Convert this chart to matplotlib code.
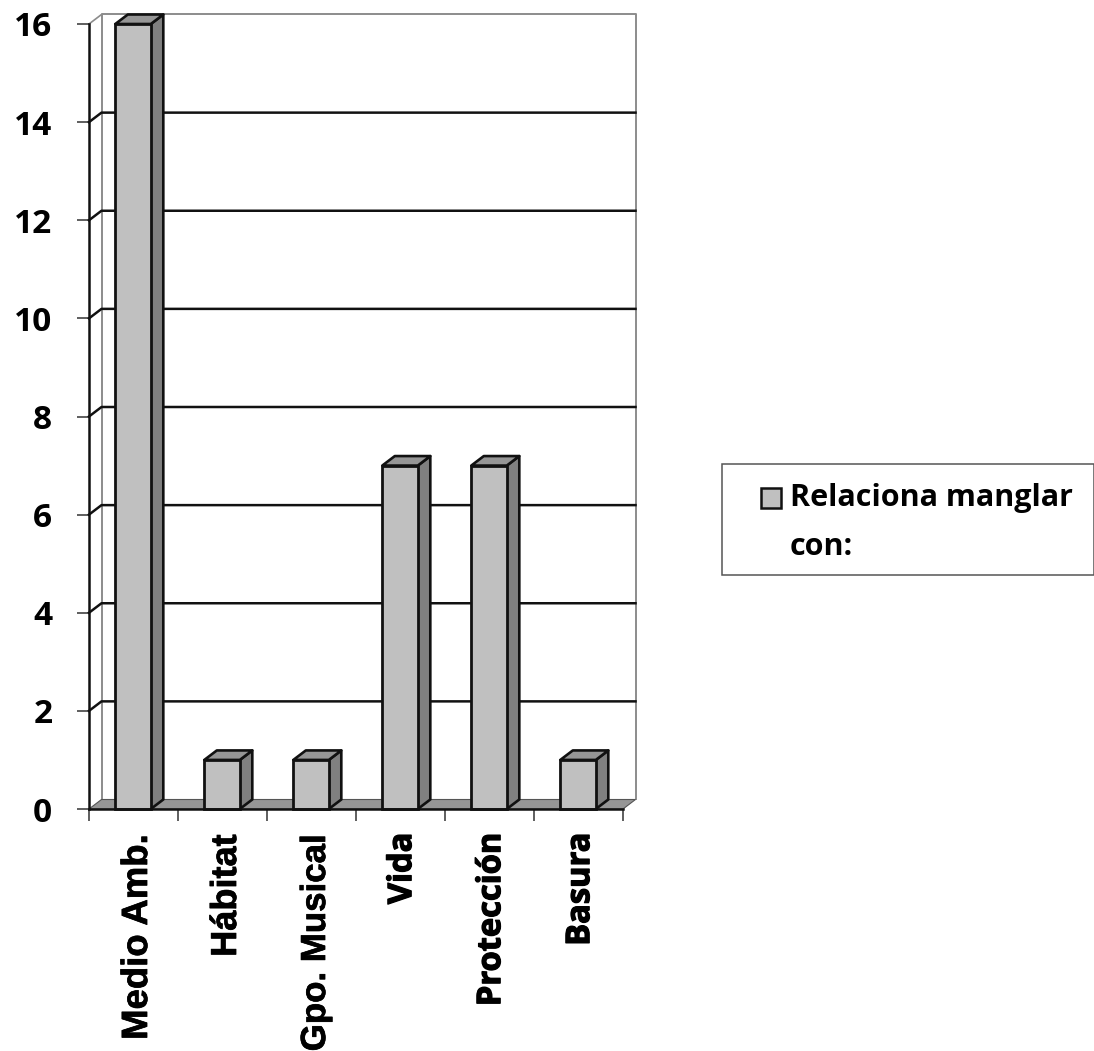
import matplotlib
matplotlib.use("Agg")
import matplotlib.pyplot as plt
import matplotlib.patheffects as pe
from matplotlib.patches import Polygon, Rectangle

plt.rcParams['font.family'] = ['Open Sans', 'DejaVu Sans']
plt.rcParams['font.weight'] = 'bold'

categories = ["Medio Amb.", "Hábitat", "Gpo. Musical", "Vida", "Protección", "Basura"]
values = [16, 1, 1, 7, 7, 1]
y_ticks = [0, 2, 4, 6, 8, 10, 12, 14, 16]
legend_text = "Relaciona manglar\ncon:"

W, H = 1094, 1051
fig = plt.figure(figsize=(W / 100, H / 100), dpi=100, facecolor="white")
ax = fig.add_axes([89 / W, 1 - 809 / H, 534 / W, 785 / H])
ax.set_xlim(0, len(categories))
ax.set_ylim(0, 16)
for s in ax.spines.values():
    s.set_visible(False)
ax.patch.set_visible(False)

# depth of the fake 3d box, in data units
dx = 12.5 / 89
dy = 9.5 / 49.06
bar_w = 35.5 / 89
n = len(categories)

front = "#c0c0c0"
side = "#808080"
top = "#969696"
floor = "#969696"
edge = "#111111"
wall = "#8c8c8c"
heavier = [pe.withStroke(linewidth=0.5, foreground="black")]
heavier2 = [pe.withStroke(linewidth=0.9, foreground="black")]

# back wall and side wall
ax.plot([dx, dx, n + dx, n + dx], [dy, 16 + dy, 16 + dy, dy], color=wall, lw=1.4, clip_on=False, zorder=1)
ax.plot([0, dx], [16, 16 + dy], color=wall, lw=1.2, clip_on=False, zorder=1)

# grid lines go on back wall then down the side wall
for v in y_ticks[1:-1]:
    ax.plot([0, dx, n + dx], [v, v + dy, v + dy], color=edge, lw=1.8, clip_on=False, zorder=2)

# floor
ax.add_patch(Polygon([(0, 0), (dx, dy), (n + dx, dy), (n, 0)], closed=True, fc=floor, ec="#555555", lw=0.8,
                     clip_on=False, zorder=2))

# bars
for i, v in enumerate(values):
    x0 = i + 0.5 - bar_w / 2 - 0.005
    x1 = x0 + bar_w
    ax.add_patch(Polygon([(x1, 0), (x1 + dx, dy), (x1 + dx, v + dy), (x1, v)], closed=True, fc=side, ec=edge,
                         lw=1.9, clip_on=False, zorder=3, joinstyle="round"))
    ax.add_patch(Polygon([(x0, v), (x0 + dx, v + dy), (x1 + dx, v + dy), (x1, v)], closed=True, fc=top, ec=edge,
                         lw=1.9, clip_on=False, zorder=3, joinstyle="round"))
    ax.add_patch(Rectangle((x0, 0), bar_w, v, fc=front, ec=edge, lw=2.0, clip_on=False, zorder=4))

# front axis lines
ax.plot([0, 0], [0, 16], color=edge, lw=1.8, clip_on=False, zorder=5)
ax.plot([0, n], [0, 0], color=edge, lw=1.8, clip_on=False, zorder=5)

ax.set_yticks(y_ticks)
ax.set_yticklabels([str(v) for v in y_ticks], fontsize=24, fontweight="bold", color="black")
ax.tick_params(axis="y", length=8.5, width=1.1, color="#333333", pad=18)

ax.set_xticks(range(n + 1))
ax.set_xticklabels([])
ax.tick_params(axis="x", length=8.5, width=1.1, color="#333333")

# first three labels look arial-like, last three calibri-like, so each gets its own size
label_sizes = [26.3, 26, 25.1, 23.5, 23.5, 23.5]
for i, name in enumerate(categories):
    if i < 3:
        ax.text(i + 0.652, -0.52, name, rotation=90, rotation_mode="anchor", ha="right", va="baseline",
                fontsize=label_sizes[i], fontweight="bold", family=["Liberation Sans", "DejaVu Sans"],
                color="black", clip_on=False, path_effects=heavier)
    else:
        ax.text(i + 0.62, -0.48, name, rotation=90, rotation_mode="anchor", ha="right", va="baseline",
                fontsize=label_sizes[i], fontweight="bold", color="black", clip_on=False, path_effects=heavier2)

# legend box runs to the edge of the picture
fig.patches.append(Rectangle((721.5 / W, 1 - 574.5 / H), 372 / W, 110 / H, transform=fig.transFigure, fc="white",
                             ec="#555555", lw=1.1))
fig.patches.append(Rectangle((761 / W, 1 - 507.5 / H), 20 / W, 20 / H, transform=fig.transFigure, fc=front,
                             ec=edge, lw=1.8))
fig.text(790 / W, 1 - 483 / H, legend_text, ha="left", va="top", fontsize=22, fontweight="bold", color="black",
         linespacing=1.83)

fig.savefig("out.png", dpi=100)
